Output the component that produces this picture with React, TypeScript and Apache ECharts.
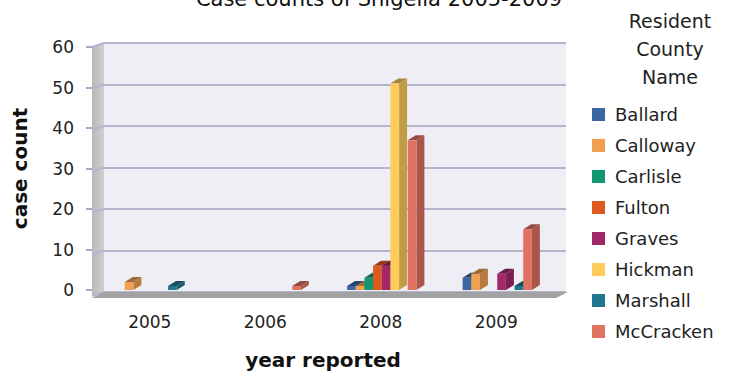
import React, { useEffect, useRef } from "react";
import * as echarts from "echarts";

const categories = ["2005", "2006", "2008", "2009"];
const counties = ["Ballard", "Calloway", "Carlisle", "Fulton", "Graves", "Hickman", "Marshall", "McCracken"];
const colors = ["#3a66a3", "#f0a050", "#119873", "#de5a20", "#a2286a", "#ffcc5c", "#20768e", "#e07262"];
const ballard = [0, 0, 1, 3];
const calloway = [2, 0, 1, 4];
const carlisle = [0, 0, 3, 0];
const fulton = [0, 0, 6, 0];
const graves = [0, 0, 6, 4];
const hickman = [0, 0, 51, 0];
const marshall = [1, 0, 0, 1];
const mccracken = [0, 1, 37, 15];
const seriesValues = [ballard, calloway, carlisle, fulton, graves, hickman, marshall, mccracken];
const yTicks = [0, 10, 20, 30, 40, 50, 60];

const FONT = "DejaVu Sans";
const GL = 92, GT = 47, GB = 296, GR = 554;
const DX = 8, DY = -5;
const WDX = 12, WDY = -4;

function shade(hex: string, f: number) {
  const n = parseInt(hex.slice(1), 16);
  const r = Math.round(((n >> 16) & 255) * f);
  const g = Math.round(((n >> 8) & 255) * f);
  const b = Math.round((n & 255) * f);
  return `rgb(${r},${g},${b})`;
}

export default function App() {
  const ref = useRef<HTMLDivElement>(null);
  useEffect(() => {
    const chart = echarts.init(ref.current!, null, { renderer: "svg" });
    const renderItem = (params: any, api: any) => {
      const ci = api.value(0);
      const v = api.value(1);
      if (!v) return null;
      const base = api.coord([ci, 0]);
      const top = api.coord([ci, v]);
      const band = api.size([1, 0])[0];
      const gw = band * 0.6;
      const slot = gw / counties.length;
      const x0 = base[0] - gw / 2 + params.seriesIndex * slot + 1;
      const x1 = x0 + slot;
      const yT = top[1];
      const yB = base[1];
      const c = colors[params.seriesIndex];
      return {
        type: "group",
        children: [
          {
            type: "polygon",
            shape: { points: [[x1, yT], [x1 + DX, yT + DY], [x1 + DX, yB + DY], [x1, yB]] },
            style: { fill: shade(c, 0.76) },
          },
          {
            type: "polygon",
            shape: { points: [[x0, yT], [x0 + DX, yT + DY], [x1 + DX, yT + DY], [x1, yT]] },
            style: { fill: shade(c, 0.66) },
          },
          {
            type: "rect",
            shape: { x: x0, y: yT, width: slot, height: yB - yT },
            style: { fill: c },
          },
        ],
      };
    };
    const pxPerUnit = (GB - GT) / 60;
    const sideLines = yTicks.map((t) => {
      const y = GB - t * pxPerUnit;
      return {
        type: "line",
        z: 1,
        shape: { x1: GL, y1: y, x2: GL + WDX, y2: y + WDY },
        style: { stroke: "#b4b4cc", lineWidth: 2 },
      };
    });
    chart.setOption({
      animation: false,
      title: [
        {
          text: "Case counts of Shigella 2005-2009",
          left: 374,
          top: -17,
          textAlign: "center",
          textStyle: { fontFamily: FONT, fontSize: 21, fontWeight: "normal", color: "#111" },
        },
        {
          text: "Resident\nCounty\nName",
          left: 665,
          top: 2,
          textAlign: "center",
          textStyle: { fontFamily: FONT, fontSize: 19, fontWeight: "normal", color: "#222", lineHeight: 28 },
        },
      ],
      legend: {
        orient: "vertical",
        left: 587,
        top: 100,
        icon: "rect",
        itemWidth: 13,
        itemHeight: 13,
        itemGap: 12,
        data: counties,
        textStyle: { fontFamily: FONT, fontSize: 18, color: "#222", lineHeight: 19, padding: [0, 0, 0, 5] },
      },
      grid: [
        { left: GL, top: GT, width: GR - GL, height: GB - GT, containLabel: false },
        {
          left: GL + WDX,
          top: GT + WDY,
          width: GR - GL,
          height: GB - GT,
          show: true,
          backgroundColor: "#eeeef4",
          borderWidth: 0,
        },
      ],
      xAxis: [
        {
          type: "category",
          gridIndex: 0,
          data: categories,
          axisLine: { show: false },
          axisTick: { show: false },
          axisLabel: { fontFamily: FONT, fontSize: 17, color: "#222", margin: 23 },
          name: "year reported",
          nameLocation: "middle",
          nameGap: 60,
          nameTextStyle: { fontFamily: FONT, fontSize: 20, fontWeight: "bold", color: "#111" },
        },
        { type: "category", gridIndex: 1, data: categories, show: false },
      ],
      yAxis: [
        {
          type: "value",
          gridIndex: 0,
          min: 0,
          max: 60,
          interval: 10,
          axisLine: { show: false },
          axisTick: { show: true, length: 6, lineStyle: { color: "#a8a8c4", width: 2 } },
          splitLine: { show: false },
          axisLabel: { fontFamily: FONT, fontSize: 17, color: "#222", margin: 18 },
          name: "case count",
          nameLocation: "middle",
          nameGap: 62,
          nameRotate: 90,
          nameTextStyle: { fontFamily: FONT, fontSize: 20, fontWeight: "bold", color: "#111" },
        },
        {
          type: "value",
          gridIndex: 1,
          min: 0,
          max: 60,
          interval: 10,
          axisLine: { show: false },
          axisTick: { show: false },
          axisLabel: { show: false },
          splitLine: { show: true, lineStyle: { color: "#b4b4cc", width: 2 } },
        },
      ],
      graphic: [
        {
          type: "polygon",
          z: 1,
          shape: { points: [[GL, GT], [GL + WDX, GT + WDY], [GL + WDX, GB + WDY], [GL, GB]] },
          style: {
            fill: new echarts.graphic.LinearGradient(0, 0, 1, 0, [
              { offset: 0, color: "#b8b8b8" },
              { offset: 1, color: "#d0d0d0" },
            ]),
          },
        },
        ...sideLines,
        {
          type: "polygon",
          z: 1,
          shape: { points: [[GL, GB + 2], [GL + WDX, GB + WDY], [GR + WDX + 2, GB + WDY], [GR + 2, GB + 2]] },
          style: { fill: "#a2a2a2" },
        },
      ],
      series: counties.map((name, i) => ({
        type: "custom",
        name,
        xAxisIndex: 0,
        yAxisIndex: 0,
        z: 3,
        itemStyle: { color: colors[i] },
        renderItem,
        encode: { x: 0, y: 1 },
        data: seriesValues[i].map((v, ci) => [ci, v]),
      })),
    });
    return () => chart.dispose();
  }, []);
  return <div ref={ref} style={{ width: 736, height: 375, position: "absolute", left: 0, top: 0 }} />;
}
